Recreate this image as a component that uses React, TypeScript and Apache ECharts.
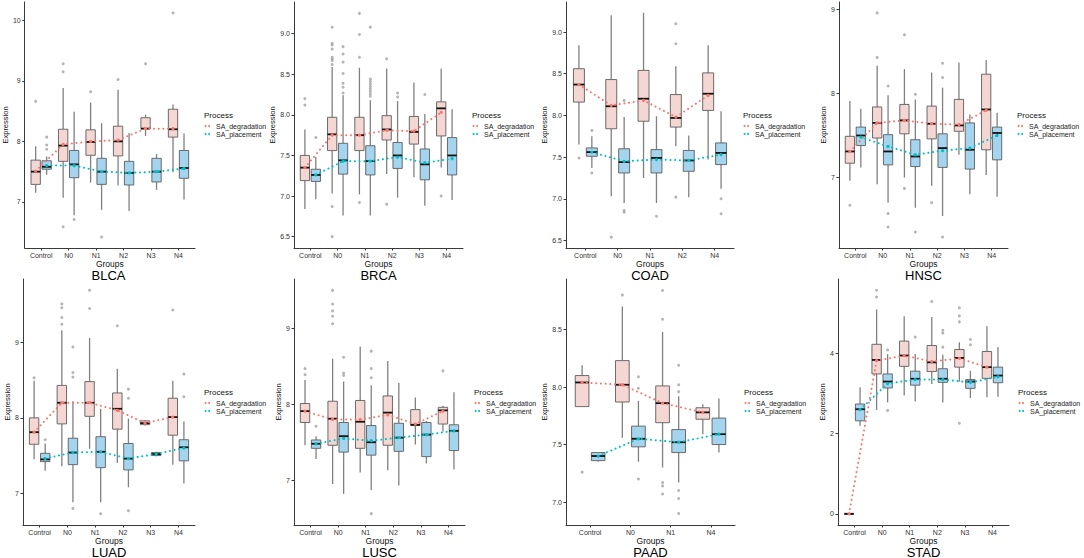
import React, { useEffect, useRef } from 'react';
import * as echarts from 'echarts';

const FONT = '"Liberation Sans", Arial, Helvetica, sans-serif';

// ---------- categories ----------
const CAT6 = ['Control', 'N0', 'N1', 'N2', 'N3', 'N4'];
const CAT_COAD = ['Control', 'N0', 'N1', 'N2', 'N4'];
const CAT_PAAD = ['Control', 'N0', 'N1', 'N4'];
const SERIES_NAMES = ['SA_degradation', 'SA_placement'];

// box stats per category: [lower whisker, Q1, median, Q3, upper whisker]
// outliers: [category index, value]

// ---------- BLCA ----------
const BLCA_deg = [[7.15, 7.29, 7.5, 7.69, 7.92], [7.07, 7.67, 7.93, 8.2, 8.88], [7.32, 7.77, 7.99, 8.19, 8.64], [7.27, 7.76, 8.0, 8.25, 8.85], [8.09, 8.21, 8.21, 8.39, 8.44], [7.49, 8.07, 8.2, 8.53, 8.61]];
const BLCA_degMean = [7.51, 7.95, 8.0, 8.02, 8.21, 8.21];
const BLCA_degOut = [[0, 8.66], [1, 9.28], [1, 9.15], [1, 6.59], [2, 8.82], [3, 9.02], [4, 9.28], [5, 10.12]];
const BLCA_pla = [[7.45, 7.54, 7.58, 7.68, 7.75], [6.78, 7.4, 7.62, 7.85, 8.49], [6.87, 7.29, 7.5, 7.72, 8.3], [6.85, 7.28, 7.48, 7.67, 8.14], [7.2, 7.33, 7.5, 7.72, 7.79], [7.04, 7.39, 7.56, 7.85, 8.13]];
const BLCA_plaMean = [7.6, 7.6, 7.5, 7.48, 7.5, 7.55];
const BLCA_plaOut = [[0, 8.07], [0, 7.94], [0, 7.87], [1, 6.71], [2, 6.42]];
const BLCA_range = [6.24, 10.3];
const BLCA_ticks = [7, 8, 9, 10];

// ---------- BRCA ----------
const BRCA_deg = [[6.84, 7.19, 7.35, 7.5, 7.82], [7.03, 7.56, 7.76, 7.97, 8.59], [7.02, 7.56, 7.75, 7.97, 8.58], [7.27, 7.69, 7.82, 7.99, 8.57], [7.23, 7.64, 7.79, 7.98, 8.4], [7.35, 7.74, 8.08, 8.16, 8.57]];
const BRCA_degMean = [7.35, 7.75, 7.75, 7.81, 7.8, 8.03];
const BRCA_degOut = [[0, 8.2], [0, 8.12], [1, 9.08], [1, 8.88], [1, 8.86], [1, 8.81], [1, 8.71], [1, 8.69], [1, 8.67], [1, 8.62], [1, 6.87], [1, 6.5], [2, 9.25], [2, 8.99], [2, 8.71], [2, 6.92], [3, 8.69], [3, 6.9], [5, 7.0]];
const BRCA_pla = [[6.96, 7.18, 7.26, 7.33, 7.48], [6.76, 7.27, 7.44, 7.65, 8.24], [6.76, 7.26, 7.43, 7.62, 8.18], [6.98, 7.34, 7.5, 7.66, 8.17], [6.88, 7.2, 7.39, 7.58, 8.01], [6.95, 7.26, 7.5, 7.72, 8.07]];
const BRCA_plaMean = [7.26, 7.43, 7.43, 7.48, 7.41, 7.46];
const BRCA_plaOut = [[0, 7.72], [1, 8.84], [1, 8.75], [1, 8.65], [1, 8.51], [1, 8.39], [1, 8.34], [1, 8.27], [2, 9.08], [2, 8.44], [2, 8.41], [2, 8.38], [2, 8.35], [2, 8.32], [2, 8.29], [2, 8.26], [2, 8.23], [3, 8.27], [3, 8.22], [4, 8.25]];
const BRCA_range = [6.36, 9.39];
const BRCA_ticks = [6.5, 7, 7.5, 8, 8.5, 9];

// ---------- COAD ----------
const COAD_deg = [[7.65, 8.16, 8.37, 8.56, 8.84], [7.03, 7.84, 8.11, 8.43, 9.2], [7.25, 7.93, 8.2, 8.54, 9.23], [7.63, 7.86, 7.97, 8.25, 8.59], [7.47, 8.06, 8.26, 8.51, 8.84]];
const COAD_degMean = [8.37, 8.12, 8.18, 7.98, 8.24];
const COAD_degOut = [[0, 7.49], [1, 6.54], [3, 9.1], [3, 8.86], [3, 7.02]];
const COAD_pla = [[7.37, 7.51, 7.56, 7.61, 7.75], [6.95, 7.31, 7.44, 7.6, 7.98], [6.95, 7.31, 7.49, 7.59, 7.99], [7.02, 7.33, 7.46, 7.58, 7.76], [7.12, 7.41, 7.55, 7.67, 8.05]];
const COAD_plaMean = [7.56, 7.45, 7.47, 7.46, 7.53];
const COAD_plaOut = [[0, 7.82], [0, 7.31], [1, 8.18], [1, 6.86], [1, 6.84], [2, 6.79], [4, 7.0], [4, 6.82]];
const COAD_range = [6.41, 9.36];
const COAD_ticks = [6.5, 7, 7.5, 8, 8.5, 9];

// ---------- HNSC ----------
const HNSC_deg = [[6.96, 7.17, 7.31, 7.49, 7.91], [6.92, 7.47, 7.65, 7.84, 8.33], [7.0, 7.52, 7.68, 7.87, 8.29], [6.9, 7.46, 7.64, 7.85, 8.25], [7.27, 7.55, 7.62, 7.93, 8.37], [7.03, 7.33, 7.81, 8.23, 8.4]];
const HNSC_degMean = [7.31, 7.65, 7.68, 7.64, 7.63, 7.8];
const HNSC_degOut = [[0, 6.67], [1, 8.96], [1, 8.43], [2, 8.7], [2, 6.87], [3, 6.7]];
const HNSC_pla = [[7.12, 7.38, 7.5, 7.6, 7.82], [6.7, 7.15, 7.31, 7.51, 7.98], [6.64, 7.13, 7.25, 7.45, 7.93], [6.54, 7.12, 7.35, 7.52, 8.07], [6.8, 7.1, 7.33, 7.65, 7.75], [6.77, 7.21, 7.53, 7.6, 7.77]];
const HNSC_plaMean = [7.48, 7.37, 7.27, 7.32, 7.35, 7.5];
const HNSC_plaOut = [[1, 8.09], [1, 6.57], [1, 6.41], [2, 7.99], [2, 6.35], [3, 8.36], [3, 8.19], [3, 6.29]];
const HNSC_range = [6.16, 9.09];
const HNSC_ticks = [7, 8, 9];

// ---------- LUAD ----------
const LUAD_deg = [[7.45, 7.65, 7.81, 8.0, 8.49], [7.36, 7.92, 8.2, 8.43, 9.16], [7.59, 8.02, 8.2, 8.48, 9.06], [7.4, 7.85, 8.12, 8.33, 8.65], [7.9, 7.91, 7.93, 7.96, 7.97], [7.38, 7.77, 8.01, 8.26, 8.49]];
const LUAD_degMean = [7.81, 8.2, 8.2, 8.1, 7.93, 8.01];
const LUAD_degOut = [[0, 8.53], [1, 9.51], [1, 9.46], [1, 9.33], [1, 9.24], [2, 9.69], [2, 9.45], [3, 9.22], [5, 9.43]];
const LUAD_pla = [[7.3, 7.42, 7.45, 7.53, 7.66], [6.88, 7.38, 7.54, 7.73, 8.22], [6.88, 7.34, 7.55, 7.75, 8.12], [7.08, 7.31, 7.46, 7.66, 7.99], [7.49, 7.5, 7.52, 7.54, 7.55], [7.13, 7.43, 7.61, 7.71, 7.95]];
const LUAD_plaMean = [7.46, 7.54, 7.55, 7.46, 7.52, 7.6];
const LUAD_plaOut = [[0, 7.71], [1, 8.94], [1, 8.6], [1, 8.54], [1, 6.8], [2, 6.73], [3, 8.38], [3, 8.26], [3, 6.77], [5, 8.58], [5, 8.28]];
const LUAD_range = [6.58, 9.84];
const LUAD_ticks = [7, 8, 9];

// ---------- LUSC ----------
const LUSC_deg = [[7.46, 7.76, 7.91, 8.01, 8.32], [6.95, 7.46, 7.81, 8.04, 8.6], [7.1, 7.42, 7.77, 8.05, 8.76], [7.13, 7.46, 7.89, 8.11, 8.57], [7.47, 7.72, 7.73, 7.93, 8.09], [7.64, 7.74, 7.92, 7.96, 7.98]];
const LUSC_degMean = [7.91, 7.8, 7.8, 7.86, 7.74, 7.91];
const LUSC_degOut = [[0, 8.47], [0, 8.39], [1, 9.5], [1, 9.32], [1, 9.23], [1, 9.16], [1, 9.06], [5, 8.44]];
const LUSC_pla = [[7.28, 7.42, 7.48, 7.53, 7.58], [6.82, 7.37, 7.58, 7.76, 8.3], [6.87, 7.33, 7.5, 7.72, 8.25], [6.93, 7.38, 7.56, 7.75, 8.28], [7.22, 7.31, 7.6, 7.76, 7.78], [7.14, 7.39, 7.65, 7.73, 8.16]];
const LUSC_plaMean = [7.48, 7.55, 7.52, 7.56, 7.6, 7.65];
const LUSC_plaOut = [[0, 7.71], [1, 8.62], [1, 8.41], [1, 8.38], [2, 8.7], [2, 8.47], [2, 8.35], [2, 6.56]];
const LUSC_range = [6.41, 9.65];
const LUSC_ticks = [7, 8, 9];

// ---------- PAAD ----------
const PAAD_deg = [[7.83, 7.83, 8.04, 8.1, 8.19], [7.56, 7.87, 8.02, 8.23, 8.7], [7.3, 7.69, 7.86, 8.01, 8.48], [7.59, 7.72, 7.78, 7.82, 7.85]];
const PAAD_degMean = [8.04, 8.02, 7.86, 7.78];
const PAAD_degOut = [[0, 7.26], [1, 8.8], [2, 8.84], [2, 8.59], [2, 7.17], [2, 7.14], [2, 7.07]];
const PAAD_pla = [[7.35, 7.36, 7.4, 7.43, 7.43], [7.35, 7.48, 7.55, 7.66, 7.88], [7.17, 7.43, 7.52, 7.63, 7.92], [7.43, 7.5, 7.59, 7.73, 7.9]];
const PAAD_plaMean = [7.4, 7.55, 7.52, 7.59];
const PAAD_plaOut = [[1, 8.09], [1, 7.99], [1, 7.2], [2, 8.19], [2, 8.02], [2, 7.96], [2, 7.1], [2, 7.03], [2, 6.9]];
const PAAD_range = [6.8, 8.94];
const PAAD_ticks = [7, 7.5, 8, 8.5];

// ---------- STAD ----------
const STAD_deg = [[0, 0, 0, 0, 0], [2.59, 3.49, 3.84, 4.23, 5.1], [2.95, 3.68, 3.95, 4.31, 4.93], [3.24, 3.55, 3.78, 4.2, 4.91], [3.3, 3.66, 3.89, 4.1, 4.28], [2.91, 3.38, 3.66, 4.05, 4.68]];
const STAD_degMean = [0, 3.82, 3.95, 3.8, 3.88, 3.66];
const STAD_degOut = [[1, 5.58], [1, 5.41], [3, 5.3], [4, 5.14], [4, 4.94], [4, 4.79], [4, 2.26]];
const STAD_pla = [[2.2, 2.32, 2.61, 2.74, 3.16], [2.78, 3.14, 3.3, 3.49, 3.99], [2.8, 3.21, 3.37, 3.56, 3.99], [2.78, 3.28, 3.37, 3.62, 3.97], [2.89, 3.13, 3.3, 3.35, 3.57], [2.92, 3.27, 3.45, 3.66, 4.16]];
const STAD_plaMean = [2.6, 3.25, 3.35, 3.35, 3.28, 3.42];
const STAD_plaOut = [[1, 4.09], [1, 2.58], [2, 4.41], [3, 4.58], [3, 4.51], [3, 4.16], [4, 4.35], [4, 4.22]];
const STAD_range = [-0.28, 5.86];
const STAD_ticks = [0, 2, 4];

const PANELS = [
  { name: 'BLCA', cats: CAT6, deg: BLCA_deg, degMean: BLCA_degMean, degOut: BLCA_degOut, pla: BLCA_pla, plaMean: BLCA_plaMean, plaOut: BLCA_plaOut, range: BLCA_range, ticks: BLCA_ticks, dec: 0 },
  { name: 'BRCA', cats: CAT6, deg: BRCA_deg, degMean: BRCA_degMean, degOut: BRCA_degOut, pla: BRCA_pla, plaMean: BRCA_plaMean, plaOut: BRCA_plaOut, range: BRCA_range, ticks: BRCA_ticks, dec: 1 },
  { name: 'COAD', cats: CAT_COAD, deg: COAD_deg, degMean: COAD_degMean, degOut: COAD_degOut, pla: COAD_pla, plaMean: COAD_plaMean, plaOut: COAD_plaOut, range: COAD_range, ticks: COAD_ticks, dec: 1 },
  { name: 'HNSC', cats: CAT6, deg: HNSC_deg, degMean: HNSC_degMean, degOut: HNSC_degOut, pla: HNSC_pla, plaMean: HNSC_plaMean, plaOut: HNSC_plaOut, range: HNSC_range, ticks: HNSC_ticks, dec: 0 },
  { name: 'LUAD', cats: CAT6, deg: LUAD_deg, degMean: LUAD_degMean, degOut: LUAD_degOut, pla: LUAD_pla, plaMean: LUAD_plaMean, plaOut: LUAD_plaOut, range: LUAD_range, ticks: LUAD_ticks, dec: 0 },
  { name: 'LUSC', cats: CAT6, deg: LUSC_deg, degMean: LUSC_degMean, degOut: LUSC_degOut, pla: LUSC_pla, plaMean: LUSC_plaMean, plaOut: LUSC_plaOut, range: LUSC_range, ticks: LUSC_ticks, dec: 0 },
  { name: 'PAAD', cats: CAT_PAAD, deg: PAAD_deg, degMean: PAAD_degMean, degOut: PAAD_degOut, pla: PAAD_pla, plaMean: PAAD_plaMean, plaOut: PAAD_plaOut, range: PAAD_range, ticks: PAAD_ticks, dec: 1 },
  { name: 'STAD', cats: CAT6, deg: STAD_deg, degMean: STAD_degMean, degOut: STAD_degOut, pla: STAD_pla, plaMean: STAD_plaMean, plaOut: STAD_plaOut, range: STAD_range, ticks: STAD_ticks, dec: 0 },
];

// ---------- layout (pixels) ----------
const LAYOUT = [
  { left: 22, width: 173, top: 2, height: 246, yGap: 13 },
  { left: 294, width: 169, top: 2, height: 246, yGap: 15 },
  { left: 566, width: 168, top: 2, height: 246, yGap: 17 },
  { left: 839, width: 169, top: 2, height: 246, yGap: 12 },
  { left: 23, width: 172, top: 279, height: 246, yGap: 11 },
  { left: 294, width: 171, top: 279, height: 246, yGap: 10 },
  { left: 566, width: 169, top: 279, height: 246, yGap: 16 },
  { left: 838, width: 171, top: 279, height: 246, yGap: 11 },
];

const DODGE = 0.2;
const BOX_W = 0.34;
const EXPAND = 0.6;
const RED = '#F8766D';
const CYAN = '#00BFC4';
const FILL_DEG = '#F4D6D2';
const FILL_PLA = '#A5D4EE';
const AXIS_COLOR = '#3a3a3a';

function boxRenderer(fill: string) {
  return (params: any, api: any) => {
    const x = api.value(0);
    const pLo = api.coord([x, api.value(1)]);
    const pQ1 = api.coord([x, api.value(2)]);
    const pMed = api.coord([x, api.value(3)]);
    const pQ3 = api.coord([x, api.value(4)]);
    const pHi = api.coord([x, api.value(5)]);
    const w = api.size([BOX_W, 0])[0];
    const cx = pMed[0];
    const whisker = { stroke: '#808080', lineWidth: 1.3 };
    return {
      type: 'group',
      children: [
        { type: 'line', shape: { x1: cx, y1: pHi[1], x2: cx, y2: pQ3[1] }, style: whisker },
        { type: 'line', shape: { x1: cx, y1: pQ1[1], x2: cx, y2: pLo[1] }, style: whisker },
        {
          type: 'rect',
          shape: { x: cx - w / 2, y: pQ3[1], width: w, height: Math.max(pQ1[1] - pQ3[1], 0.5) },
          style: { fill, stroke: '#5c5c5c', lineWidth: 0.9 },
        },
        { type: 'line', shape: { x1: cx - w / 2, y1: pMed[1], x2: cx + w / 2, y2: pMed[1] }, style: { stroke: '#111', lineWidth: 1.8 } },
      ],
    };
  };
}

function buildOption() {
  const grid: any[] = [];
  const xAxis: any[] = [];
  const yAxis: any[] = [];
  const series: any[] = [];
  const graphic: any[] = [];

  PANELS.forEach((p, k) => {
    const L = LAYOUT[k];
    const n = p.cats.length;
    const idx = p.cats.map((_, i) => i);
    grid.push({ left: L.left, top: L.top, width: L.width, height: L.height, containLabel: false });
    xAxis.push({
      gridIndex: k,
      type: 'value',
      min: -EXPAND,
      max: n - 1 + EXPAND,
      minInterval: 1,
      maxInterval: 1,
      axisLine: { show: true, onZero: false, lineStyle: { color: AXIS_COLOR, width: 1 } },
      axisTick: { show: true, length: 2.5, customValues: idx, lineStyle: { color: AXIS_COLOR } },
      axisLabel: {
        customValues: idx,
        formatter: (v: number) => (Math.abs(v - Math.round(v)) < 1e-6 ? p.cats[Math.round(v)] ?? '' : ''),
        fontSize: 7,
        color: '#333',
        margin: 4,
        fontFamily: FONT,
      },
      splitLine: { show: false },
      name: 'Groups',
      nameLocation: 'middle',
      nameGap: 10,
      nameTextStyle: { fontSize: 8.5, color: '#111', fontFamily: FONT },
    });
    yAxis.push({
      gridIndex: k,
      type: 'value',
      min: p.range[0],
      max: p.range[1],
      axisLine: { show: true, onZero: false, lineStyle: { color: AXIS_COLOR, width: 1 } },
      axisTick: { show: true, length: 2.5, customValues: p.ticks, lineStyle: { color: AXIS_COLOR } },
      axisLabel: {
        customValues: p.ticks,
        formatter: (v: number) => (p.ticks.some((t) => Math.abs(t - v) < 1e-6) ? v.toFixed(p.dec) : ''),
        fontSize: 7,
        color: '#333',
        margin: 4,
        fontFamily: FONT,
      },
      splitLine: { show: false },
      name: 'Expression',
      nameLocation: 'middle',
      nameRotate: 90,
      nameGap: L.yGap,
      nameTextStyle: { fontSize: 7.5, color: '#111', fontFamily: FONT },
    });

    const groups = [
      { box: p.deg, mean: p.degMean, out: p.degOut, off: -DODGE, fill: FILL_DEG, color: RED, name: SERIES_NAMES[0] },
      { box: p.pla, mean: p.plaMean, out: p.plaOut, off: DODGE, fill: FILL_PLA, color: CYAN, name: SERIES_NAMES[1] },
    ];
    groups.forEach((g) => {
      series.push({
        type: 'custom',
        name: g.name,
        xAxisIndex: k,
        yAxisIndex: k,
        renderItem: boxRenderer(g.fill),
        data: g.box.map((b, i) => [i + g.off, ...b]),
        encode: { x: 0, y: [1, 2, 3, 4, 5] },
        z: 2,
      });
      series.push({
        type: 'scatter',
        name: g.name + ' outliers',
        xAxisIndex: k,
        yAxisIndex: k,
        symbolSize: 3,
        itemStyle: { color: '#a3a3a3' },
        data: g.out.map((o) => [o[0] + g.off, o[1]]),
        z: 3,
      });
    });
    groups.forEach((g) => {
      series.push({
        type: 'line',
        name: g.name,
        xAxisIndex: k,
        yAxisIndex: k,
        data: g.mean.map((m, i) => [i + g.off, m]),
        showSymbol: true,
        symbol: 'circle',
        symbolSize: 3.2,
        itemStyle: { color: g.color },
        lineStyle: { color: g.color, width: 2, type: [0.1, 4.6], cap: 'round' },
        z: 5,
      });
    });

    // panel title
    graphic.push({
      type: 'text',
      x: L.left + L.width / 2,
      y: L.top + L.height + 27,
      style: { text: p.name, fontSize: 13, fontFamily: FONT, fill: '#000', align: 'center', verticalAlign: 'middle', textAlign: 'center', textVerticalAlign: 'middle' },
    });
    // legend
    const lx = L.left + L.width + 9;
    const mid = L.top + L.height / 2;
    graphic.push({
      type: 'text',
      x: lx,
      y: mid - 10,
      style: { text: 'Process', fontSize: 8, fontFamily: FONT, fill: '#111', align: 'left', verticalAlign: 'middle', textAlign: 'left', textVerticalAlign: 'middle' },
    });
    SERIES_NAMES.forEach((nm, j) => {
      const cy = mid + 1 + j * 8;
      const col = j === 0 ? RED : CYAN;
      graphic.push({ type: 'circle', shape: { cx: lx + 1.5, cy, r: 1 }, style: { fill: col } });
      graphic.push({ type: 'circle', shape: { cx: lx + 5, cy, r: 1 }, style: { fill: col } });
      graphic.push({
        type: 'text',
        x: lx + 12,
        y: cy,
        style: { text: nm, fontSize: 7, fontFamily: FONT, fill: '#222', align: 'left', verticalAlign: 'middle', textAlign: 'left', textVerticalAlign: 'middle' },
      });
    });
  });

  return {
    animation: false,
    backgroundColor: '#ffffff',
    textStyle: { fontFamily: FONT },
    grid,
    xAxis,
    yAxis,
    series,
    graphic,
  };
}

export default function App() {
  const ref = useRef<HTMLDivElement>(null);
  useEffect(() => {
    if (!ref.current) return;
    const chart = echarts.init(ref.current, undefined, { renderer: 'svg' });
    chart.setOption(buildOption() as any);
    return () => chart.dispose();
  }, []);
  return (
    <div
      ref={ref}
      style={{ position: 'fixed', left: 0, top: 0, width: 1084, height: 558, background: '#fff' }}
    />
  );
}
